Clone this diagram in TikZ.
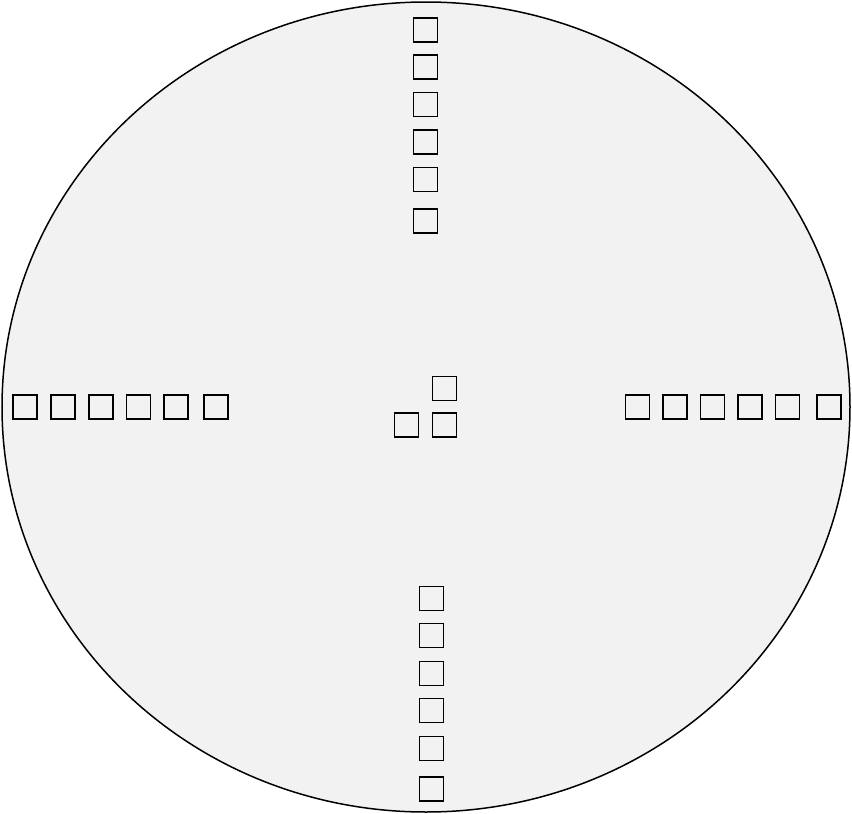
\documentclass[tikz,border=0pt]{standalone}
\usetikzlibrary{shapes.geometric}
\begin{document}
\begin{tikzpicture}[x=1pt,y=-1pt,
  sq/.style={draw=black,line width=1.6pt,fill=none,minimum size=24pt,inner sep=0pt,outer sep=0pt,rectangle},
  disc/.style={draw=black,line width=1.5pt,fill=gray!10}]
\useasboundingbox (0,0) rectangle (852,814);
\draw[disc] (426,407) ellipse [x radius=424, y radius=405];
% top
\foreach \y [count=\i] in {30,67,104.5,142,179.5,221}
  \node[sq] (t\i) at (425.5,\y) {};
% left
\foreach \x [count=\i] in {25.2,63.2,100.8,138.5,175.8,215.8}
  \node[sq] (l\i) at (\x,407.2) {};
% right
\foreach \x [count=\i] in {637.5,675,712.5,750,787.5,829}
  \node[sq] (r\i) at (\x,407.2) {};
% bottom
\foreach \y [count=\i] in {598.3,635.5,673.3,710.5,748.3,789}
  \node[sq] (b\i) at (431.3,\y) {};
% centre
\node[sq] (c1) at (444.5,388.3) {};
\node[sq] (c2) at (406.3,425) {};
\node[sq] (c3) at (444.5,425) {};
\end{tikzpicture}
\end{document}
